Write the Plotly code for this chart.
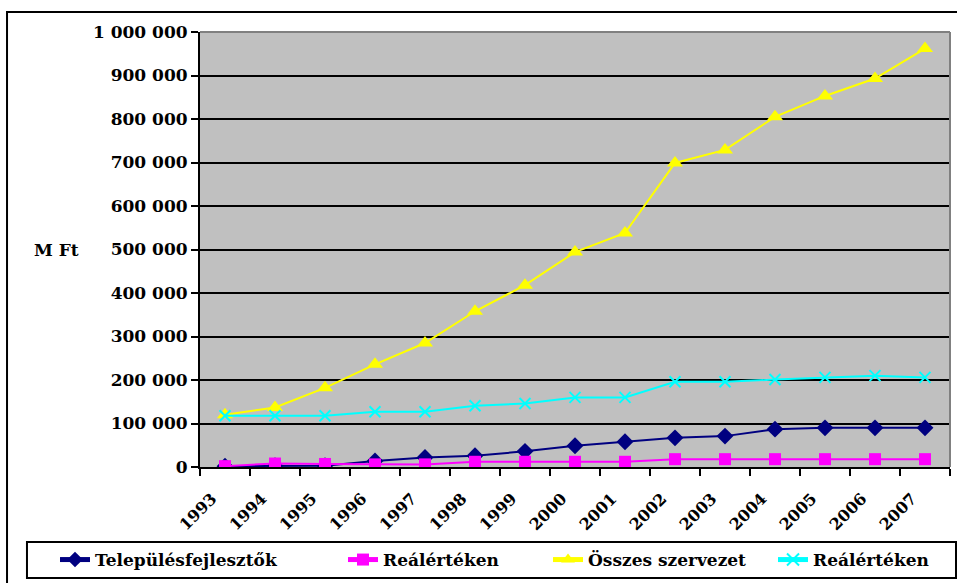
import plotly.graph_objects as go

# Years (categories)
years = list(range(1993, 2008))

# Values in million forints
telepulesfejlesztok = [2000, 3000, 3000, 14000, 22000, 26000, 36000, 49000, 58000,
                       67000, 71000, 87000, 90000, 90000, 90000]
realertek_telep = [2000, 8000, 7000, 6000, 6000, 12000, 12000, 12000, 12000,
                   18000, 18000, 18000, 18000, 18000, 18000]
osszes_szervezet = [120000, 137000, 182000, 236000, 285000, 358000, 418000, 494000, 538000,
                    699000, 729000, 805000, 853000, 893000, 962000]
realertek_osszes = [118000, 118000, 118000, 127000, 127000, 141000, 146000, 160000, 160000,
                    196000, 196000, 201000, 206000, 210000, 206000]

y_ticks = list(range(0, 1000001, 100000))
y_tick_text = [f"{v:,}".replace(",", " ") for v in y_ticks]

FONT = "DejaVu Serif"

fig = go.Figure()

fig.add_trace(go.Scatter(
    x=years, y=telepulesfejlesztok, name="Településfejlesztők", mode="lines+markers",
    line=dict(color="#000080", width=2),
    marker=dict(symbol="diamond", size=13, color="#000080"),
    legendwidth=243,
))
fig.add_trace(go.Scatter(
    x=years, y=realertek_telep, name="Reálértéken", mode="lines+markers",
    line=dict(color="#FF00FF", width=2),
    marker=dict(symbol="square", size=12, color="#FF00FF"),
    legendwidth=160,
))
fig.add_trace(go.Scatter(
    x=years, y=osszes_szervezet, name="Összes szervezet", mode="lines+markers",
    line=dict(color="#FFFF00", width=2),
    marker=dict(symbol="triangle-up", size=14, color="#FFFF00"),
    legendwidth=180,
))
fig.add_trace(go.Scatter(
    x=years, y=realertek_osszes, name="Reálértéken", mode="lines+markers",
    line=dict(color="#00FFFF", width=2),
    marker=dict(symbol="x-thin", size=11, color="#00FFFF",
                line=dict(color="#00FFFF", width=2)),
    legendwidth=130,
))

boundaries = [y - 0.5 for y in years] + [years[-1] + 0.5]

fig.update_layout(
    width=957, height=583,
    margin=dict(l=200, r=7, t=32, b=116, autoexpand=False),
    paper_bgcolor="white",
    plot_bgcolor="#C0C0C0",
    font=dict(family=FONT, size=17, color="black"),
    showlegend=True,
    legend=dict(
        orientation="h",
        x=-0.1933, y=-0.2138, xanchor="left", yanchor="middle",
        bgcolor="rgba(0,0,0,0)", borderwidth=0,
        font=dict(family=FONT, size=17, color="black", weight="bold"),
        itemsizing="constant",
    ),
    xaxis=dict(
        range=[years[0] - 0.5, years[-1] + 0.5],
        tickmode="array",
        tickvals=[y - 0.26 for y in years],
        ticktext=[str(y) for y in years],
        tickangle=-45,
        ticks="",
        ticklabelstandoff=14,
        tickfont=dict(family=FONT, size=16, weight="bold"),
        showgrid=False, zeroline=False, automargin=False,
        showline=True, linecolor="black", linewidth=2,
        minor=dict(tickmode="array", tickvals=boundaries, ticks="outside",
                   ticklen=7, tickwidth=2, tickcolor="black", showgrid=False),
    ),
    yaxis=dict(
        range=[0, 1000000],
        tickmode="array", tickvals=y_ticks, ticktext=y_tick_text,
        ticks="outside", ticklen=7, tickwidth=2, tickcolor="black",
        tickfont=dict(family=FONT, size=17, weight="bold"),
        showgrid=True, gridcolor="black", gridwidth=2,
        zeroline=False, automargin=False,
        showline=True, linecolor="black", linewidth=2,
    ),
    shapes=[
        # right and top edge of the plot area
        dict(type="line", xref="paper", yref="paper", x0=0, x1=1, y0=1, y1=1,
             line=dict(color="#808080", width=2)),
        dict(type="line", xref="paper", yref="paper", x0=1, x1=1, y0=0, y1=1,
             line=dict(color="#808080", width=2)),
        # outer chart frame
        dict(type="rect", xref="paper", yref="paper", x0=-0.2573, x1=1.1, y0=-0.35, y1=1.046,
             line=dict(color="black", width=2), fillcolor="rgba(0,0,0,0)", layer="below"),
        # legend box
        dict(type="rect", xref="paper", yref="paper", x0=-0.2307, x1=1.008, y0=-0.2552, y1=-0.1724,
             line=dict(color="black", width=2), fillcolor="white", layer="below"),
    ],
    annotations=[
        dict(text="<b>M Ft</b>", xref="paper", yref="paper", x=-0.192, y=0.499,
             xanchor="center", yanchor="middle", showarrow=False,
             font=dict(family=FONT, size=17, color="black")),
    ],
)

fig.write_html("out.html")
